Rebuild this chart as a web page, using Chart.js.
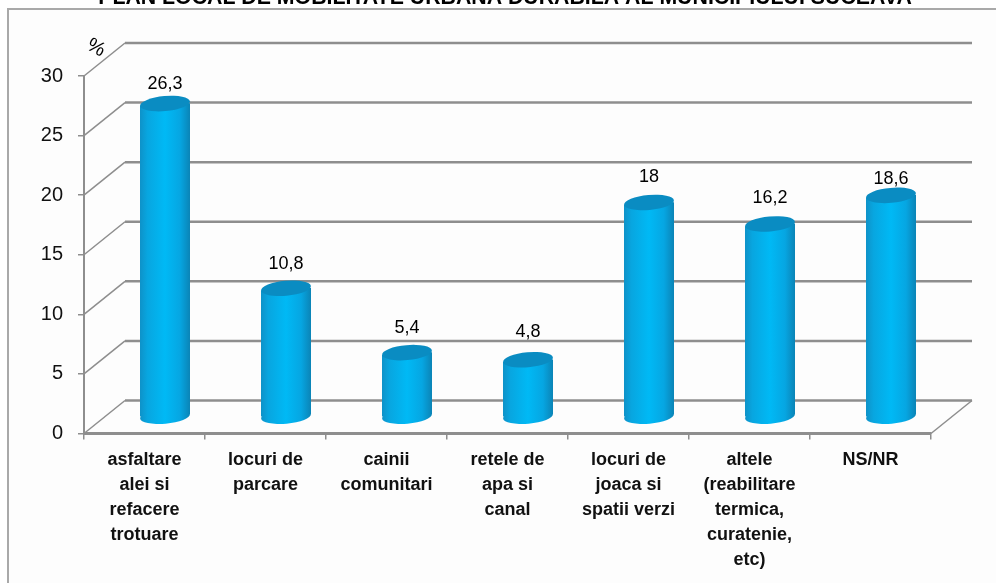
<!DOCTYPE html>
<html>
<head>
<meta charset="utf-8">
<style>
  html, body { margin: 0; padding: 0; background: #fff; overflow: hidden; }
  #wrap { position: absolute; left: 0; top: 0; width: 996px; height: 583px; }
</style>
<script src="https://cdn.jsdelivr.net/npm/chart.js@4"></script>
</head>
<body>
<div id="wrap"><canvas id="chart"></canvas></div>
<script>
const titleText = 'PLAN LOCAL DE MOBILITATE URBANA DURABILA AL MUNICIPIULUI SUCEAVA';
const unitLabel = '%';
const categories = [
  ['asfaltare', 'alei si', 'refacere', 'trotuare'],
  ['locuri de', 'parcare'],
  ['cainii', 'comunitari'],
  ['retele de', 'apa si', 'canal'],
  ['locuri de', 'joaca si', 'spatii verzi'],
  ['altele', '(reabilitare', 'termica,', 'curatenie,', 'etc)'],
  'NS/NR'
];
const values = [26.3, 10.8, 5.4, 4.8, 18, 16.2, 18.6];
const valueLabels = ['26,3', '10,8', '5,4', '4,8', '18', '16,2', '18,6'];

// depth of the fake 3d box
const depthX = 41;
const depthY = 33;
const barWidth = 50;
const capHeight = 7.5;
const tilt = -0.09;
const labelLift = [20, 24, 25, 28, 25, 26, 16];
const gridGrey = '#8e8e8e';
const fontName = '"Liberation Sans", Arial, sans-serif';

function bodyGradient(ctx, cx) {
  const g = ctx.createLinearGradient(cx - barWidth / 2, 0, cx + barWidth / 2, 0);
  g.addColorStop(0, '#0e92c8');
  g.addColorStop(0.15, '#08a6e0');
  g.addColorStop(0.5, '#00b9f5');
  g.addColorStop(0.8, '#06a6e2');
  g.addColorStop(1, '#0b84b6');
  return g;
}

const box3d = {
  id: 'box3d',
  // title sits centred over x=505, not over the chart area
  afterLayout(chart) {
    chart.titleBlock.left += 79;
  },
  beforeDraw(chart) {
    const ctx = chart.ctx;
    ctx.save();
    ctx.fillStyle = '#fdfdfd';
    ctx.fillRect(8, 8, 1000, 600);
    ctx.strokeStyle = '#a9a9a9';
    ctx.lineWidth = 2;
    ctx.strokeRect(8, 9, 1100, 700);
    ctx.restore();
  },
  beforeDatasetsDraw(chart) {
    const { ctx, chartArea, scales } = chart;
    ctx.save();
    ctx.strokeStyle = gridGrey;
    scales.y.ticks.forEach((t) => {
      const y = scales.y.getPixelForValue(t.value);
      ctx.lineWidth = 1.5;
      ctx.beginPath();
      ctx.moveTo(chartArea.left, y);
      ctx.lineTo(chartArea.left + depthX, y - depthY);
      ctx.stroke();
      ctx.lineWidth = 2.5;
      ctx.beginPath();
      ctx.moveTo(chartArea.left + depthX, y - depthY);
      ctx.lineTo(chartArea.right + depthX, y - depthY);
      ctx.stroke();
    });
    ctx.lineWidth = 1.5;
    ctx.beginPath();
    ctx.moveTo(chartArea.right, chartArea.bottom);
    ctx.lineTo(chartArea.right + depthX, chartArea.bottom - depthY);
    ctx.stroke();
    ctx.restore();
  },
  // the library draws the bar bodies, shifted half way into the box
  // and clipped so their ends follow the tilted ellipses
  beforeDatasetDraw(chart, args) {
    const ctx = chart.ctx;
    const rise = (barWidth / 2) * Math.sin(-tilt);
    ctx.save();
    ctx.translate(depthX / 2, -depthY / 2);
    ctx.save();
    ctx.beginPath();
    chart.getDatasetMeta(args.index).data.forEach((bar) => {
      ctx.moveTo(bar.x - barWidth / 2, bar.y + rise);
      ctx.lineTo(bar.x + barWidth / 2, bar.y - rise);
      ctx.lineTo(bar.x + barWidth / 2, bar.base - rise);
      ctx.lineTo(bar.x - barWidth / 2, bar.base + rise);
      ctx.closePath();
    });
    ctx.clip();
  },
  afterDatasetDraw(chart, args) {
    const ctx = chart.ctx;
    const bars = chart.getDatasetMeta(args.index).data;
    ctx.restore();
    bars.forEach((bar) => {
      ctx.fillStyle = bodyGradient(ctx, bar.x);
      ctx.beginPath();
      ctx.ellipse(bar.x, bar.base, barWidth / 2, capHeight, tilt, 0, Math.PI * 2);
      ctx.fill();
      ctx.fillStyle = '#0a8cc2';
      ctx.beginPath();
      ctx.ellipse(bar.x, bar.y, barWidth / 2, capHeight, tilt, 0, Math.PI * 2);
      ctx.fill();
    });
    ctx.restore();
    ctx.save();
    ctx.fillStyle = '#000';
    ctx.font = '18px ' + fontName;
    ctx.textAlign = 'center';
    ctx.textBaseline = 'middle';
    bars.forEach((bar, i) => {
      ctx.fillText(valueLabels[i], bar.x + depthX / 2, bar.y - depthY / 2 - labelLift[i]);
    });
    ctx.restore();
  },
  afterDraw(chart) {
    const ctx = chart.ctx;
    ctx.save();
    ctx.translate(96, 48);
    ctx.rotate(0.5);
    ctx.fillStyle = '#000';
    ctx.font = '20px ' + fontName;
    ctx.textAlign = 'center';
    ctx.textBaseline = 'middle';
    ctx.fillText(unitLabel, 0, 0);
    ctx.restore();
  }
};

new Chart(document.getElementById('chart'), {
  type: 'bar',
  data: {
    labels: categories,
    datasets: [{
      data: values,
      barThickness: barWidth,
      borderWidth: 0,
      backgroundColor: (c) => {
        const x = c.chart.scales.x;
        const cx = x ? x.getPixelForValue(c.dataIndex) : NaN;
        if (!Number.isFinite(cx)) return '#00b9f5';
        return bodyGradient(c.chart.ctx, cx);
      }
    }]
  },
  options: {
    responsive: true,
    maintainAspectRatio: false,
    animation: false,
    layout: { padding: { left: 0, right: 65, top: 0, bottom: 0 } },
    plugins: {
      legend: { display: false },
      tooltip: { enabled: false },
      title: {
        display: true,
        text: titleText,
        color: '#000',
        font: { family: fontName, size: 21.3, weight: 'bold', lineHeight: 1 },
        padding: { top: -13, bottom: 67.7 }
      }
    },
    scales: {
      x: {
        afterFit: (s) => { s.height = 149.5; },
        grid: { drawOnChartArea: false, tickLength: 6, lineWidth: 1.5, tickColor: gridGrey },
        border: { color: gridGrey, width: 3 },
        ticks: {
          color: '#111',
          padding: 8,
          maxRotation: 0,
          autoSkip: false,
          font: { family: fontName, size: 18, weight: 'bold', lineHeight: 1.39 }
        }
      },
      y: {
        min: 0,
        max: 30,
        afterFit: (s) => { s.width = 84; },
        grid: { drawOnChartArea: false, tickLength: 6, lineWidth: 1.5, tickColor: gridGrey },
        border: { color: gridGrey, width: 2 },
        ticks: {
          stepSize: 5,
          color: '#111',
          padding: 15,
          font: { family: fontName, size: 20 }
        }
      }
    }
  },
  plugins: [box3d]
});
</script>
</body>
</html>
